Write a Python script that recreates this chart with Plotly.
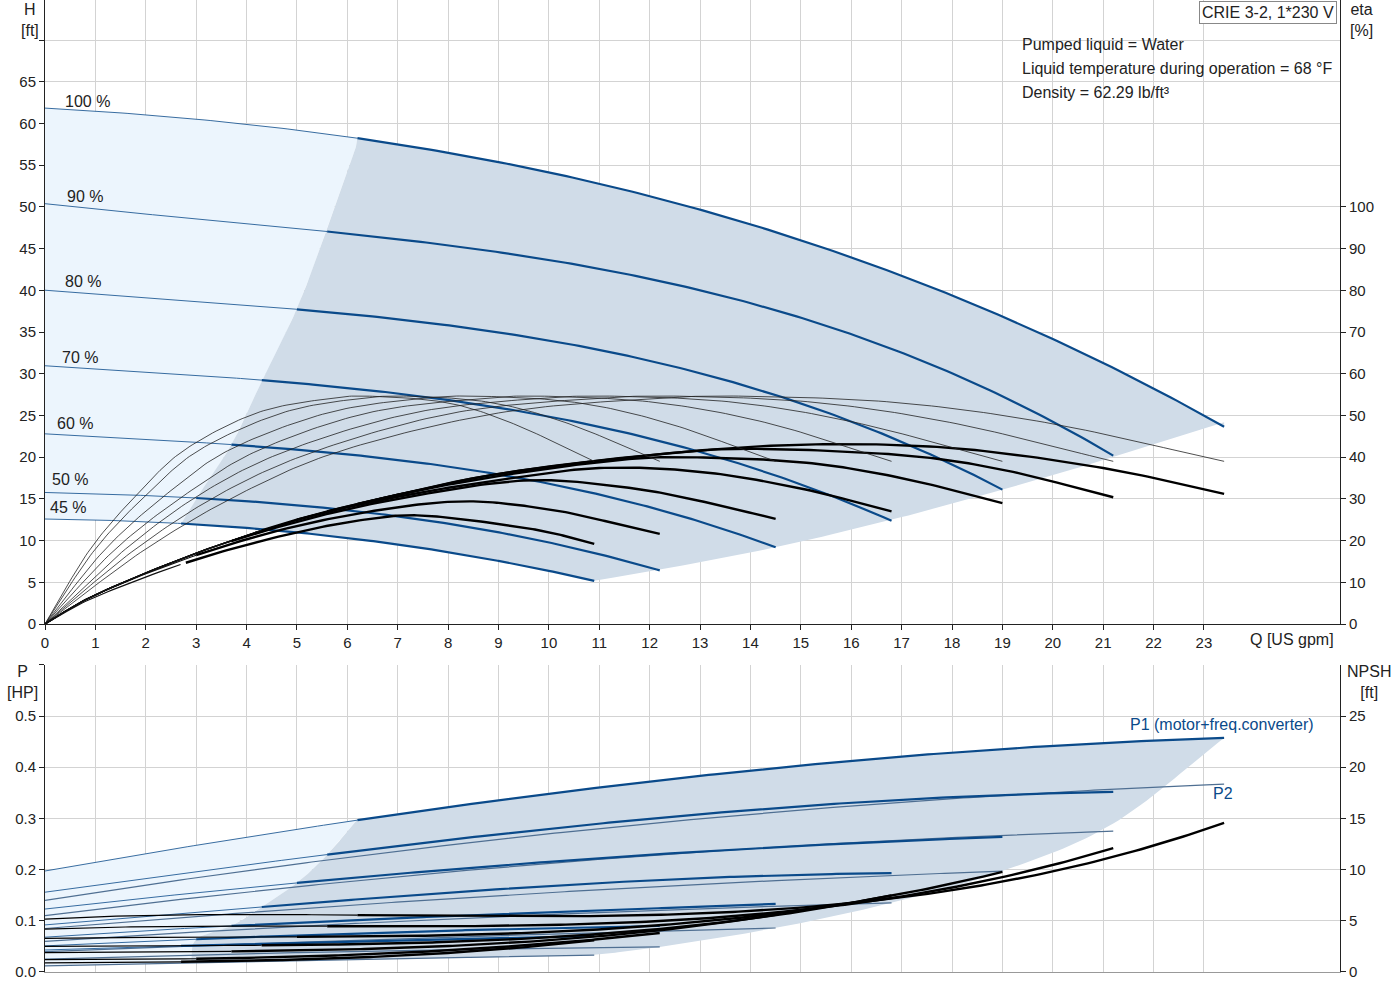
import numpy as np
import plotly.graph_objects as go

BLUE = "#0a4a8a"
DARK = "rgb(208,220,232)"
LIGHT = "rgb(236,245,253)"
speeds = ["100 %", "90 %", "80 %", "70 %", "60 %", "50 %", "45 %"]
q_start = [6.2, 5.6, 5.0, 4.3, 3.7, 3.0, 2.7]
q_end = [23.4, 21.2, 19.0, 16.8, 14.5, 12.2, 10.9]

# head curves
h_q = [[0, 6.2, 9, 12, 15, 18, 21, 23.4],
       [0, 5.6, 10, 14, 18, 21.2],
       [0, 5.0, 8.5, 12, 16, 19],
       [0, 4.3, 7, 10, 14, 16.8],
       [0, 3.7, 8, 12, 14.5],
       [0, 3.0, 7, 10, 12.2],
       [0, 2.7, 6, 9, 10.9]]
h_v = [[62, 57.7, 55.2, 52, 46.5, 39, 30.5, 24.2],
       [50.3, 47.4, 43.3, 38.3, 30.5, 20],
       [40, 37.8, 35.3, 31.6, 24.3, 16.1],
       [31, 29.1, 27.6, 25.2, 18.5, 12.5],
       [22.8, 21.5, 18.9, 14.0, 9.2],
       [15.8, 15.0, 13.1, 9.6, 6.5],
       [12.6, 12.0, 10.4, 7.5, 5.2]]
# pump efficiency (thin) curves, %
e1_q = [[0, 2, 4, 6, 9, 12, 14, 17, 20, 23.4],
        [0, 1.8, 3.6, 5.5, 8.1, 10.8, 12.7, 15.4, 18.1, 21.2],
        [0, 1.6, 3.2, 4.9, 7.3, 9.7, 11.4, 13.8, 16.2, 19],
        [0, 1.4, 2.9, 4.3, 6.4, 8.6, 10, 12.2, 14.4, 16.8],
        [0, 1.2, 2.5, 3.7, 5.6, 7.4, 8.7, 10.6, 12.4, 14.5],
        [0, 1, 2.1, 3.1, 4.7, 6.2, 7.3, 8.9, 10.4, 12.2],
        [0, .9, 1.9, 2.8, 4.2, 5.6, 6.5, 8, 9.3, 10.9]]
e1_v = [0, 18, 32, 42, 50.6, 54, 54.6, 53, 48, 39]
# total efficiency (thick) curves, %
e2_q = [[0, 1, 3, 5, 7, 9, 12, 15, 18, 21, 23.4],
        [0, 1, 3, 5, 7, 9, 12, 14, 17, 19, 21.2],
        [0, 1, 3, 5, 7, 9, 11, 12.5, 15, 17, 19],
        [0, 1, 3, 5, 7, 9, 11, 13, 15, 16.8],
        [0, 1, 3, 5, 7, 9.5, 11.5, 13, 14.5],
        [0, 1, 3, 5, 7, 8.5, 10, 11, 12.2],
        [0, 1, 3, 5, 6.5, 7.5, 9, 10, 10.9]]
e2_v = [[0, 7, 17, 25, 31, 36, 40.5, 43, 42.2, 37.4, 31.2],
        [0, 7, 17, 25, 31, 36, 40.5, 42, 40.5, 37, 30.4],
        [0, 7, 17, 25, 31, 35.5, 38.8, 40, 38.8, 35, 29],
        [0, 7, 17, 25, 30.5, 34.5, 37.4, 36.5, 32.5, 27],
        [0, 7, 17, 24.5, 30, 34.4, 32.8, 29.5, 25.2],
        [0, 7, 16.5, 23.5, 28, 29.4, 27.5, 25, 21.6],
        [0, 6.5, 15.5, 22, 25.3, 26, 24, 22, 19.2]]
# power
p1_q = [[0, 6.2, 12, 18, 23.4], [0, 5.6, 12, 17, 21.2], [0, 5.0, 12, 19],
        [0, 4.3, 10, 16.8], [0, 3.7, 9, 14.5], [0, 3.0, 12.2], [0, 2.7, 10.9]]
p1_v = [[0.197, 0.298, 0.37, 0.43, 0.457], [0.156, 0.229, 0.30, 0.336, 0.352],
        [0.123, 0.174, 0.229, 0.264], [0.092, 0.127, 0.168, 0.193],
        [0.068, 0.09, 0.113, 0.133], [0.051, 0.064, 0.09], [0.043, 0.051, 0.07]]
p2_q = [[0, 12, 23.4], [0, 11, 21.2], [0, 10, 19], [0, 9, 16.8], [0, 8, 14.5], [0, 6, 12.2], [0, 6, 10.9]]
p2_v = [[0.14, 0.29, 0.367], [0.11, 0.22, 0.275], [0.085, 0.155, 0.197], [0.06, 0.108, 0.135],
        [0.04, 0.068, 0.086], [0.025, 0.04, 0.049], [0.012, 0.024, 0.033]]
# NPSH
n_q = [[0, 6.2, 10, 14, 17, 20, 23.4], [0, 5.6, 9, 13, 16, 19, 21.2], [0, 5, 8, 11, 14, 17, 19],
       [0, 4.3, 7, 10, 13, 15, 16.8], [0, 3.7, 6, 9, 11, 13, 14.5], [0, 3, 5, 8, 10, 12.2],
       [0, 2.7, 5, 7, 9, 10.9]]
n_v = [[5.2, 5.4, 5.6, 6.0, 7.2, 9.8, 14.6], [4.2, 4.4, 4.6, 5.2, 6.6, 9.3, 12.1],
       [3.3, 3.4, 3.6, 4.2, 5.4, 7.6, 9.8], [2.5, 2.6, 2.8, 3.4, 4.6, 5.9, 7.5],
       [1.9, 2.0, 2.2, 2.8, 3.5, 4.5, 5.6], [1.2, 1.3, 1.5, 2.1, 2.8, 3.8],
       [0.9, 1.0, 1.2, 1.6, 2.2, 3.1]]
# region boundaries
hb_q = [6.2, 5.6, 5.0, 4.3, 3.7, 3.0, 2.7]
hb_v = [57.7, 47.4, 37.8, 29.1, 21.5, 15.0, 12.0]
hr_q = [23.4, 21.2, 19.0, 16.8, 14.5, 12.2, 10.9]
hr_v = [24.2, 20.0, 16.1, 12.5, 9.2, 6.5, 5.2]
pb_q = [6.2, 5.6, 5.0, 4.3, 3.7, 3.0, 2.9]
pb_v = [0.298, 0.229, 0.174, 0.127, 0.09, 0.064, 0.02]
pr_q = [23.4, 21.2, 19.0, 16.8, 14.5, 12.2, 10.9]
pr_v = [0.457, 0.29, 0.197, 0.135, 0.086, 0.049, 0.033]


def smooth(xs, ys, n=20):
    x = np.asarray(xs, float); y = np.asarray(ys, float)
    if len(x) < 3:
        t = np.linspace(0, 1, n); return x[0] + (x[1]-x[0])*t, y[0] + (y[1]-y[0])*t
    P = np.column_stack([x, y])
    P = np.vstack([2*P[0]-P[1], P, 2*P[-1]-P[-2]])
    out = []
    for i in range(1, len(P)-2):
        p0, p1, p2, p3 = P[i-1], P[i], P[i+1], P[i+2]
        t = np.linspace(0, 1, n, endpoint=False)[:, None]
        out.append(0.5*((2*p1) + (-p0+p2)*t + (2*p0-5*p1+4*p2-p3)*t**2 + (-p0+3*p1-3*p2+p3)*t**3))
    out.append(P[-2][None, :])
    o = np.vstack(out)
    return o[:, 0], o[:, 1]


def fit(xs, ys, n=200):
    """Smooth least-squares curve through the read points (for monotone curves)."""
    x = np.asarray(xs, float); y = np.asarray(ys, float)
    c = np.polyfit(x, y, min(3, len(x) - 1))
    xx = np.linspace(x[0], x[-1], n)
    xx = np.unique(np.concatenate([xx, x]))
    return xx, np.polyval(c, xx)


def seg(x, y, a, b):
    m = (x >= a - 1e-9) & (x <= b + 1e-9)
    return x[m], y[m]


fig = go.Figure()


def line(x, y, w, c, xa="x", ya="y", op=1.0):
    fig.add_trace(go.Scatter(x=x, y=y, mode="lines", line=dict(color=c, width=w),
                             opacity=op, xaxis=xa, yaxis=ya, hoverinfo="skip", showlegend=False))


def poly(x, y, c, xa="x", ya="y"):
    fig.add_trace(go.Scatter(x=x, y=y, mode="lines", fill="toself", fillcolor=c,
                             line=dict(width=0), xaxis=xa, yaxis=ya, hoverinfo="skip", showlegend=False))


# ---- top regions
H = [fit(a, b) for a, b in zip(h_q, h_v)]
bx, by = smooth(hb_q, hb_v)
rx, ry = smooth(hr_q, hr_v)
by[0] = np.interp(6.2, *H[0]); by[-1] = np.interp(2.7, *H[6])
tx, ty = seg(*H[0], 0, 6.2)
lx, ly = seg(*H[6], 0, 2.7)
poly(np.concatenate([tx, bx, lx[::-1]]), np.concatenate([ty, by, ly[::-1]]), LIGHT)
tx2, ty2 = seg(*H[0], 6.2, 23.4)
lx2, ly2 = seg(*H[6], 2.7, 10.9)
poly(np.concatenate([bx[::-1], tx2, rx, lx2[::-1]]), np.concatenate([by[::-1], ty2, ry, ly2[::-1]]), DARK)

for i in range(7):
    x, y = H[i]
    line(*seg(x, y, 0, q_start[i]), 1, BLUE, op=0.8)
    line(*seg(x, y, q_start[i], q_end[i]), 2.2, BLUE)
    ex, ey = smooth(e1_q[i], e1_v)
    line(ex, ey, 0.8, "#222", ya="y2")
    ex, ey = smooth(e2_q[i], e2_v[i])
    line(*seg(ex, ey, 0, q_start[i]), 1.2, "#111", ya="y2")
    line(*seg(ex, ey, q_start[i], q_end[i]), 2.4, "#000", ya="y2")

# ---- bottom regions
P1 = [fit(a, b) for a, b in zip(p1_q, p1_v)]
P2 = [fit(a, b) for a, b in zip(p2_q, p2_v)]
bx, by = smooth(pb_q, pb_v)
rx, ry = smooth(pr_q, pr_v)
tx, ty = seg(*P1[0], 0, 6.2)
lx, ly = seg(*P2[6], 0, 2.9)
poly(np.concatenate([tx, bx, lx[::-1]]), np.concatenate([ty, by, ly[::-1]]), LIGHT, "x2", "y3")
tx2, ty2 = seg(*P1[0], 6.2, 23.4)
lx2, ly2 = seg(*P2[6], 2.9, 10.9)
poly(np.concatenate([bx[::-1], tx2, rx, lx2[::-1]]), np.concatenate([by[::-1], ty2, ry, ly2[::-1]]), DARK, "x2", "y3")

for i in range(7):
    x, y = P1[i]
    line(*seg(x, y, 0, q_start[i]), 1, BLUE, "x2", "y3", 0.8)
    line(*seg(x, y, q_start[i], q_end[i]), 2.2, BLUE, "x2", "y3")
    line(*P2[i], 1.2, "#4f6f92", "x2", "y3")
    nx, ny = fit(n_q[i], n_v[i])
    line(*seg(nx, ny, 0, q_start[i]), 1.2, "#000", "x2", "y4")
    line(*seg(nx, ny, q_start[i], q_end[i]), 2.4, "#000", "x2", "y4")

FONT = dict(family="Liberation Sans, Arial", size=15, color="#222")
grid = "#d3d3d3"
top_dom = [0.358, 1.0]
bot_dom = [0.0, 0.316]
fig.update_layout(
    width=1400, height=1000, margin=dict(l=45, r=60, t=0, b=28),
    plot_bgcolor="white", paper_bgcolor="white", font=FONT,
    xaxis=dict(domain=[0, 1], range=[0, 25.7], tickvals=list(range(24)), showgrid=True, gridcolor=grid,
               zeroline=False, showline=True, linecolor="#222", ticks="outside", ticklen=5, tickcolor="#222",
               anchor="y", mirror=False),
    yaxis=dict(domain=top_dom, range=[0, 74.8], tickvals=list(range(0, 75, 5)),
               ticktext=[str(v) for v in range(0, 70, 5)] + ["", ""],
               showgrid=True, gridcolor=grid, zeroline=False, showline=True, linecolor="#222",
               ticks="outside", ticklen=5, tickcolor="#222"),
    yaxis2=dict(overlaying="y", side="right", range=[0, 149.6], tickvals=list(range(0, 110, 10)),
                showgrid=False, zeroline=False, showline=True, linecolor="#222", ticks="outside",
                ticklen=5, tickcolor="#222", anchor="x"),
    xaxis2=dict(domain=[0, 1], range=[0, 25.7], tickvals=list(range(24)), showticklabels=False,
                showgrid=True, gridcolor=grid, zeroline=False, showline=True, linecolor="#999", anchor="y3"),
    yaxis3=dict(domain=bot_dom, range=[0, 0.6], tickvals=[0, .1, .2, .3, .4, .5, .6],
                ticktext=["0.0", "0.1", "0.2", "0.3", "0.4", "0.5", ""], anchor="x2",
                showgrid=True, gridcolor=grid, zeroline=False, showline=True, linecolor="#222",
                ticks="outside", ticklen=5, tickcolor="#222"),
    yaxis4=dict(overlaying="y3", side="right", range=[0, 30], tickvals=list(range(0, 30, 5)), anchor="x2",
                showgrid=False, zeroline=False, showline=True, linecolor="#222", ticks="outside",
                ticklen=5, tickcolor="#222"),
)

AF = dict(family=FONT["family"], size=16, color="#222")
label_q = [0.85, 0.8, 0.75, 0.7, 0.6, 0.5, 0.45]
label_h = [62.6, 51.3, 41.1, 32.0, 24.0, 17.3, 14.0]
for s, qx, hy in zip(speeds, label_q, label_h):
    fig.add_annotation(x=qx, y=hy, xref="x", yref="y", text=s, showarrow=False, font=AF)


def pa(text, px, py, align="center", xanchor="center", color="#222", **kw):
    fig.add_annotation(x=(px-45)/1295, y=(972-py)/972, xref="paper", yref="paper", text=text,
                       showarrow=False, align=align, xanchor=xanchor, yanchor="middle",
                       font=dict(family=FONT["family"], size=16, color=color), **kw)


pa("H<br>[ft]", 30, 20)
pa("eta<br>[%]", 1361, 20)
pa("Q [US gpm]", 1292, 639)
pa("P<br>[HP]", 22, 682)
pa("NPSH<br>[ft]", 1369, 682)
pa("Pumped liquid = Water", 1020, 44, align="left", xanchor="left")
pa("Liquid temperature during operation = 68 °F", 1020, 68, align="left", xanchor="left")
pa("Density = 62.29 lb/ft³", 1020, 92, align="left", xanchor="left")
pa("CRIE 3-2, 1*230 V", 1268, 12, bordercolor="#888", borderwidth=1, borderpad=2, bgcolor="white")
pa("P1 (motor+freq.converter)", 1222, 724, color=BLUE)
pa("P2", 1223, 793, color=BLUE)

fig.write_html("out.html", config={"displayModeBar": False},
               post_script="document.body.style.margin='0px';")
